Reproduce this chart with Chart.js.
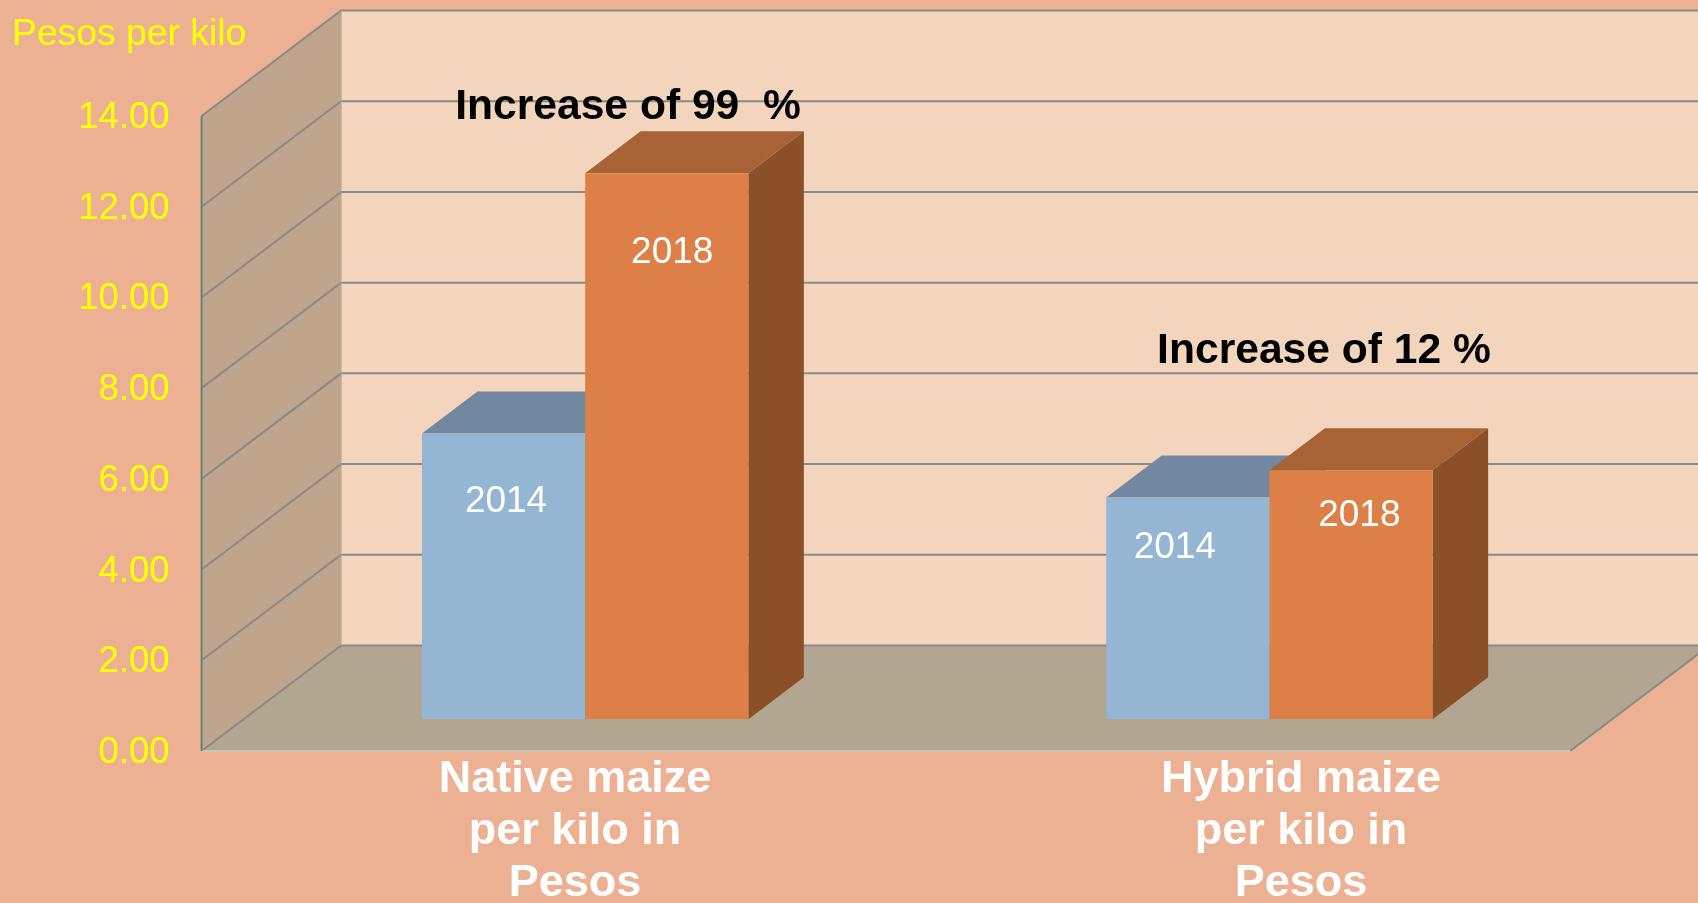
<!DOCTYPE html>
<html>
<head>
<meta charset="utf-8">
<title>Maize prices</title>
<script src="https://cdn.jsdelivr.net/npm/chart.js@4/dist/chart.umd.min.js"></script>
<style>
  html, body { margin: 0; padding: 0; background: #ecb192; overflow: hidden; }
  canvas { display: block; }
</style>
</head>
<body>
<canvas id="myChart" width="1698" height="903"></canvas>
<script>
const categories = [['Native maize', 'per kilo in', 'Pesos'], ['Hybrid maize', 'per kilo in', 'Pesos']];
const years = ['2014', '2018'];
const values2014 = [6.30, 4.89];
const values2018 = [12.04, 5.49];
const increaseLabels = ['Increase of 99  %', 'Increase of 12 %'];
const yTitle = 'Pesos per kilo';

// bar plane sits in from the front of the box
const floorDepth = { x: 41.4, y: -31.7 };
const boxDepth = { x: 139.5, y: -105.5 };
const barDepth = { x: 55.5, y: -42 };

const colors = {
  back: '#f2d5bc', side: '#bea58b', floor: '#b2a690', grid: '#8a8a84',
  leftAxis: '#64857f', baseLine: '#c9c5bd',
  blue: '#94b6d2', blueTop: '#7188a0', blueSide: '#5f7890',
  orange: '#dd8047', orangeTop: '#a76235', orangeSide: '#8c5029'
};

function poly(c, pts, fill) {
  c.beginPath();
  pts.forEach((p, i) => i ? c.lineTo(p[0], p[1]) : c.moveTo(p[0], p[1]));
  c.closePath();
  c.fillStyle = fill;
  c.fill();
}

function line(c, pts, color, width) {
  c.beginPath();
  pts.forEach((p, i) => i ? c.lineTo(p[0], p[1]) : c.moveTo(p[0], p[1]));
  c.strokeStyle = color;
  c.lineWidth = width;
  c.stroke();
}

const boxPlugin = {
  id: 'box3d',
  beforeDatasetsDraw(chart) {
    const c = chart.ctx, y = chart.scales.y, a = chart.chartArea;
    // front plane of the box, behind the bar plane
    const fl = a.left - floorDepth.x, fr = a.right - floorDepth.x;
    const fy = v => y.getPixelForValue(v) - floorDepth.y;
    const bx = boxDepth.x, by = boxDepth.y;
    c.save();
    poly(c, [[fl + bx, fy(14) + by], [fr + bx, fy(14) + by], [fr + bx, fy(0) + by], [fl + bx, fy(0) + by]], colors.back);
    poly(c, [[fl, fy(14)], [fl + bx, fy(14) + by], [fl + bx, fy(0) + by], [fl, fy(0)]], colors.side);
    poly(c, [[fl, fy(0)], [fl + bx, fy(0) + by], [fr + bx, fy(0) + by], [fr, fy(0)]], colors.floor);
    y.ticks.forEach(t => {
      const p = fy(t.value);
      line(c, [[fl, p], [fl + bx, p + by], [fr + bx, p + by]], colors.grid, 2);
    });
    line(c, [[fl + bx, fy(14) + by], [fl + bx, fy(0) + by]], '#c2a88f', 1);
    line(c, [[fr, fy(0)], [fr + bx, fy(0) + by]], colors.grid, 2);
    line(c, [[fl, fy(0)], [fr, fy(0)]], colors.baseLine, 2);
    line(c, [[fl, fy(14)], [fl, fy(0)]], colors.leftAxis, 2);

    // tops and sides of the bars, the fronts come from the library
    [[0, colors.blueTop, colors.blueSide], [1, colors.orangeTop, colors.orangeSide]].forEach(([ds, top, side]) => {
      chart.getDatasetMeta(ds).data.forEach(bar => {
        const l = bar.x - bar.width / 2, r = bar.x + bar.width / 2;
        const dx = barDepth.x, dy = barDepth.y;
        poly(c, [[r, bar.y], [r + dx, bar.y + dy], [r + dx, bar.base + dy], [r, bar.base]], side);
        poly(c, [[l, bar.y], [l + dx, bar.y + dy], [r + dx, bar.y + dy], [r, bar.y]], top);
      });
    });
    c.restore();
  },
  afterDatasetsDraw(chart) {
    const c = chart.ctx, x = chart.scales.x;
    c.save();
    c.textAlign = 'center';
    c.textBaseline = 'middle';

    // year labels inside the bars
    c.font = '37px "Liberation Sans"';
    c.fillStyle = '#ffffff';
    const yearShift = [[[2.5, 68], [5.5, 80]], [[-13, 50], [8.3, 46]]];
    [0, 1].forEach(ds => {
      chart.getDatasetMeta(ds).data.forEach((bar, i) => {
        const s = yearShift[i][ds];
        c.fillText(years[ds], bar.x + s[0], bar.y + s[1]);
      });
    });

    // increase labels
    c.font = 'bold 42.6px "Liberation Sans"';
    c.fillStyle = '#000000';
    const incPos = [[628, 107], [1324, 351]];
    increaseLabels.forEach((t, i) => c.fillText(t, incPos[i][0], incPos[i][1]));

    // category labels, set by hand off the tick position
    c.font = 'bold 45px "Liberation Sans"';
    c.fillStyle = '#ffffff';
    const labelShift = [-10.2, 31.5];
    categories.forEach((lines, i) => {
      const cx = x.getPixelForTick(i) + labelShift[i];
      lines.forEach((l, j) => c.fillText(l, cx, 780 + j * 52));
    });

    // axis title
    c.font = '37.3px "Liberation Sans"';
    c.fillStyle = '#ffff00';
    c.textAlign = 'left';
    c.fillText(yTitle, 12, 35);
    c.restore();
  }
};

const ctx = document.getElementById('myChart').getContext('2d');

new Chart(ctx, {
  type: 'bar',
  data: {
    labels: categories.map(l => l.join(' ')),
    datasets: [
      { label: years[0], data: values2014, backgroundColor: colors.blue },
      { label: years[1], data: values2018, backgroundColor: colors.orange }
    ]
  },
  options: {
    responsive: false,
    animation: false,
    layout: { padding: { left: 0, right: 86.4, top: 84.3, bottom: 183.7 } },
    datasets: { bar: { barPercentage: 1, categoryPercentage: 0.477 } },
    plugins: { legend: { display: false }, title: { display: false }, tooltip: { enabled: false } },
    scales: {
      x: {
        position: 'bottom',
        grid: { display: false, drawTicks: false },
        border: { display: false },
        ticks: { display: false }
      },
      y: {
        min: 0,
        max: 14,
        afterFit(scale) {
          scale.width = 243;
          scale.paddingTop = 0;
          scale.paddingBottom = 0;
        },
        grid: { display: false, drawTicks: false },
        border: { display: false },
        ticks: {
          stepSize: 2,
          padding: 73.5,
          labelOffset: 33.7,
          color: '#ffff00',
          font: { family: '"Liberation Sans"', size: 36.5 },
          callback: v => v.toFixed(2)
        }
      }
    }
  },
  plugins: [boxPlugin]
});
</script>
</body>
</html>
